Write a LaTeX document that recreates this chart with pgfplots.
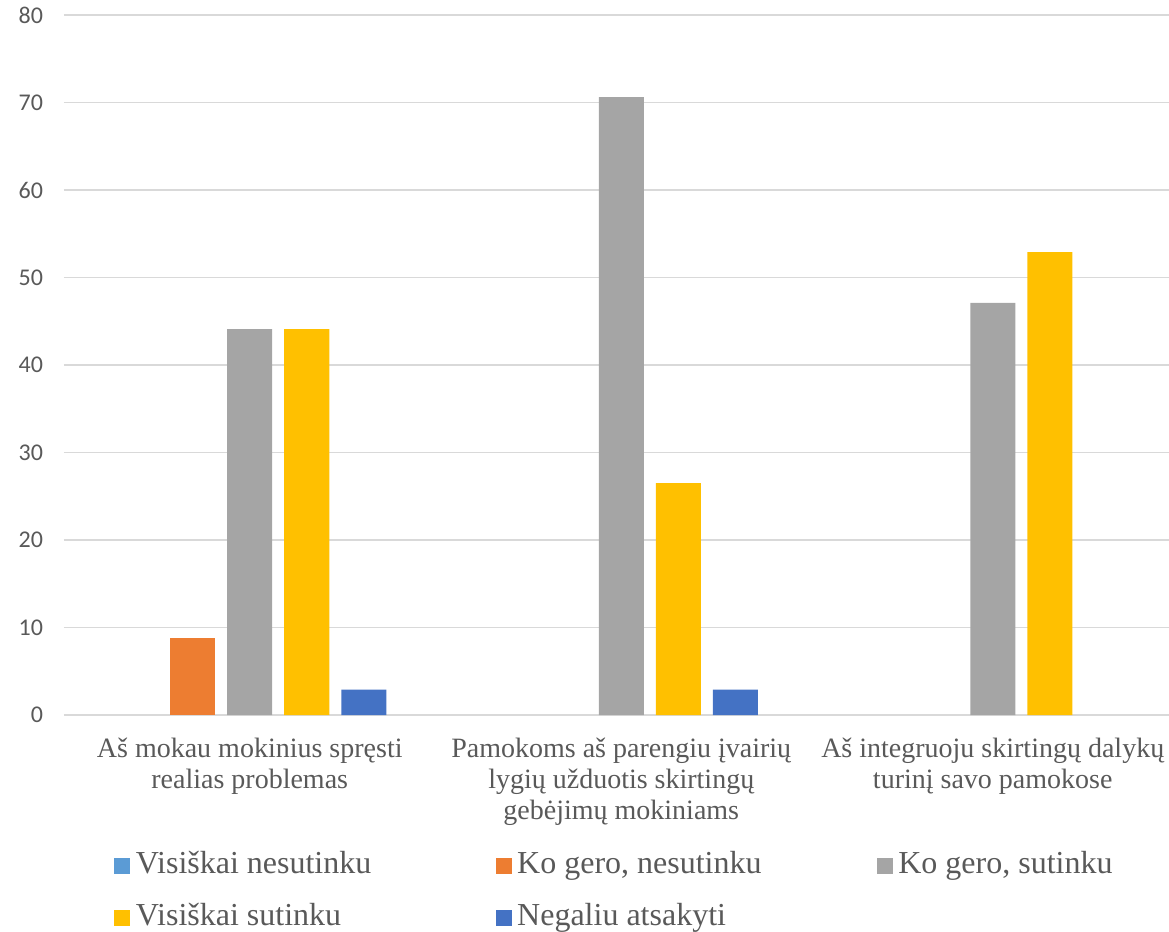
\documentclass[border=0pt]{standalone}
\usepackage{pgfplots}
\pgfplotsset{compat=1.18}
\usepackage{fontspec}
\setmainfont{Liberation Serif}
\newfontfamily\calibri{Carlito}
\definecolor{txt}{HTML}{595959}
\definecolor{gridc}{HTML}{D9D9D9}
\definecolor{c1}{HTML}{5B9BD5}
\definecolor{c2}{HTML}{ED7D31}
\definecolor{c3}{HTML}{A5A5A5}
\definecolor{c4}{HTML}{FFC000}
\definecolor{c5}{HTML}{4472C4}
\begin{document}
\begin{tikzpicture}
\begin{axis}[
  scale only axis,
  width=557.25pt, height=350pt,
  ybar=6pt, bar width=22.5pt,
  xmin=-0.5, xmax=2.5, ymin=0, ymax=80,
  ytick={0,10,...,80},
  xtick=data,
  xticklabels={{Aš mokau mokinius spręsti\\realias problemas},
               {Pamokoms aš parengiu įvairių\\lygių užduotis skirtingų\\gebėjimų mokiniams},
               {Aš integruoju skirtingų dalykų\\turinį savo pamokose}},
  x tick label style={font=\fontsize{14}{15.5}\selectfont, text=txt, align=center, inner xsep=0pt, yshift=-8pt},
  y tick label style={font=\calibri\fontsize{12}{14}\selectfont, text=txt, xshift=-7pt},
  /pgf/number format/assume math mode=true,
  major tick length=0pt,
  ymajorgrids, grid style={gridc, line width=0.8pt},
  axis x line*=bottom,
  axis y line*=left,
  x axis line style={draw=gridc, line width=0.8pt},
  y axis line style={draw=none},
  legend style={at={(rel axis cs:0,0)}, anchor=north west, xshift=25pt, yshift=-66.5pt,
    draw=none, fill=none, inner sep=0pt, column sep=0pt, row sep=8.5pt,
    font=\fontsize{16}{18}\selectfont, text=txt,
    nodes={inner ysep=1.5pt, inner xsep=2.8pt, text height=11pt, text depth=3.5pt}},
  legend columns=3,
  legend cell align=left,
  legend image code/.code={\fill[#1] (0pt,-0.25em-1.5pt) rectangle (8pt,6.5pt-0.25em);},
]
\addplot[fill=c1, draw=none, fill opacity=0,
  legend image code/.code={\fill[c1, fill opacity=1] (0pt,-0.25em-1.5pt) rectangle (8pt,6.5pt-0.25em);}]
  coordinates {(0,0) (1,0) (2,0)};
\addlegendentry{\makebox[177pt][l]{Visiškai nesutinku}}
\addplot[fill=c2, draw=none, y filter/.expression={y==0 ? nan : y}] coordinates {(0,8.8) (1,0) (2,0)};
\addlegendentry{\makebox[177pt][l]{Ko gero, nesutinku}}
\addplot[fill=c3, draw=none] coordinates {(0,44.1) (1,70.6) (2,47.1)};
\addlegendentry{Ko gero, sutinku}
\addplot[fill=c4, draw=none] coordinates {(0,44.1) (1,26.5) (2,52.9)};
\addlegendentry{\makebox[177pt][l]{Visiškai sutinku}}
\addplot[fill=c5, draw=none, y filter/.expression={y==0 ? nan : y}] coordinates {(0,2.9) (1,2.9) (2,0)};
\addlegendentry{\makebox[177pt][l]{Negaliu atsakyti}}
\end{axis}
\pgfresetboundingbox
\useasboundingbox ([xshift=-32pt,yshift=-108.5pt]current axis.south west) rectangle ([xshift=552.5pt,yshift=357.5pt]current axis.south west);
\end{tikzpicture}
\end{document}
